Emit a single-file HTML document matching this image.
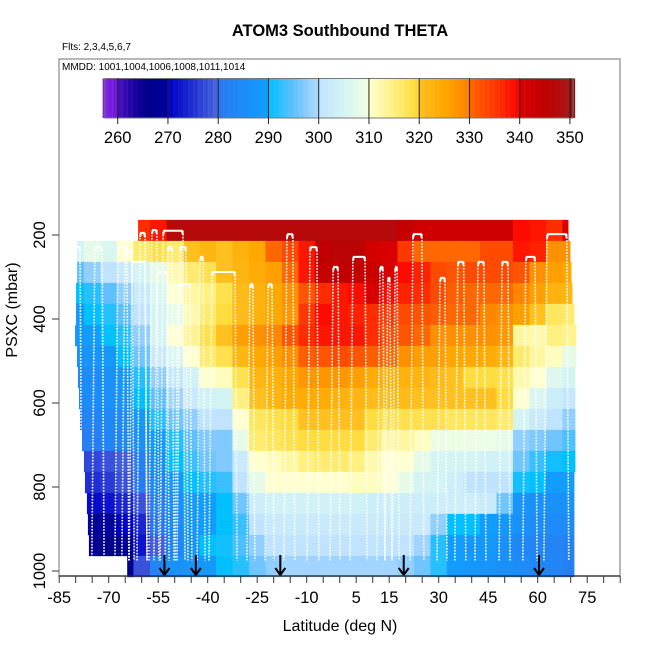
<!DOCTYPE html>
<html><head><meta charset="utf-8"><style>
html,body{margin:0;padding:0;background:#fff;}
svg{display:block;font-family:"Liberation Sans",Arial,sans-serif;}
</style></head><body>
<svg id="chart" width="650" height="650" viewBox="0 0 650 650">
<rect x="0" y="0" width="650" height="650" fill="#fff"/>
<text x="340" y="36" text-anchor="middle" font-size="16.5" font-weight="bold">ATOM3 Southbound THETA</text>
<text x="62" y="50" font-size="10">Flts: 2,3,4,5,6,7</text>
<text x="62" y="70" font-size="10">MMDD: 1001,1004,1006,1008,1011,1014</text>
<g id="heat"></g>
<g id="profiles"></g>
<g id="arrows"></g>
<rect x="59" y="59" width="561" height="517" fill="none" stroke="#888" stroke-width="1.2"/>
<g id="cbar"></g>
<g id="xaxis"></g>
<g id="yaxis"></g>
<text x="340" y="631" text-anchor="middle" font-size="16">Latitude (deg N)</text>
<text x="0" y="0" transform="translate(17,310) rotate(-90)" text-anchor="middle" font-size="16">PSXC (mbar)</text>
</svg>
<script>
// ---- data ----
const latCenters = [-80,-75,-70,-65,-60,-55,-50,-45,-40,-35,-30,-25,-20,-15,-10,-5,0,5,10,15,20,25,30,35,40,45,50,55,60,65,70];
const presCenters = [189,239,289,339,389,439,489,539,589,639,689,739,789,839,889,939,989];
const rowStartLat = [-61.1,-79.6,-79.6,-79.9,-79.9,-80.2,-79.6,-79.3,-79.0,-78.7,-78.1,-77.5,-77.2,-76.6,-76.3,-76.0,-64.4];
const rowEndLat = [69.2,69.8,70.1,70.4,71.0,71.6,71.6,71.3,71.3,71.3,71.3,71.3,71.0,71.0,71.0,71.0,71.0];
const theta0 = [null,null,null,null,336,338,347,347,347,347,347,347,347,347,347,347,347,347,347,347,344,342,342,342,342,342,342,339,338,336,340];
const theta1 = [305,308,306,310,316,318,316,320,322,320,323,325,330,333,338,345,346,346,341,340,335,330,330,330,330,333,333,338,337,328,328];
const theta2 = [295,298,300,302,305,308,312,316,318,320,322,324,326,330,338,344,345,344,343,340,339,337,333,332,333,333,333,332,328,326,325];
const theta3 = [290,292,295,298,302,306,310,313,315,318,321,323,325,328,332,336,338,339,340,339,337,336,333,331,330,330,330,329,326,323,322];
const theta4 = [288,290,292,295,300,305,308,312,316,319,321,323,325,327,335,339,338,337,336,335,333,332,331,330,330,329,328,326,320,317,316];
const theta5 = [288,289,290,292,298,305,310,314,318,320,326,328,329,332,336,338,338,338,336,333,332,330,328,328,328,328,327,313,312,315,314];
const theta6 = [286,287,288,290,296,302,306,310,316,318,322,325,326,328,331,332,333,332,331,330,328,326,326,325,325,324,322,316,313,311,308];
const theta7 = [284,285,286,288,292,298,301,304,310,311,318,322,323,325,327,327,327,326,324,323,323,322,321,320,319,319,318,312,310,307,305];
const theta8 = [284,285,286,287,290,295,299,302,304,305,315,320,322,324,324,324,323,322,321,321,321,320,320,320,320,320,319,310,306,303,301];
const theta9 = [282,283,284,285,288,292,296,298,300,300,310,317,318,319,320,320,320,320,319,318,318,318,318,317,317,317,316,305,302,300,298];
const theta10 = [281,282,283,284,286,289,292,295,297,297,308,316,317,318,319,319,319,319,316,313,313,311,309,309,309,309,308,298,297,296,294];
const theta11 = [276,277,278,279,282,286,290,293,296,297,302,310,311,313,315,316,316,315,312,310,310,308,305,305,305,304,304,296,293,291,290];
const theta12 = [274,275,276,278,281,284,288,290,292,293,300,308,310,310,310,310,310,311,311,310,308,305,305,303,300,300,300,291,290,289,289];
const theta13 = [270,271,272,274,278,282,286,289,289,290,296,303,304,304,304,304,304,304,303,303,303,303,303,303,303,302,296,287,286,286,286];
const theta14 = [267,268,269,270,274,280,285,288,289,290,293,300,302,302,302,302,302,302,302,302,302,302,298,290,290,289,288,286,285,285,285];
const theta15 = [null,265,266,268,272,279,284,287,290,291,294,298,300,300,300,300,300,300,300,300,300,299,292,289,288,288,286,284,283,283,282];
const theta16 = [null,null,null,266,278,283,286,287,288,290,292,296,298,299,299,299,299,299,299,299,298,296,292,289,288,287,286,285,284,283,282];
const thetaRows = [theta0,theta1,theta2,theta3,theta4,theta5,theta6,theta7,theta8,theta9,theta10,theta11,theta12,theta13,theta14,theta15,theta16];

const profLeftLat = [-80.2,-74.2,-67.2,-65.1,-62.9,-60.5,-56.9,-55.4,-53.5,-52.0,-49.0,-48.4,-42.3,-38.7,-27.2,-21.7,-16.0,-9.0,-2.0,4.0,12.2,14.6,16.8,22.2,30.4,35.8,41.9,49.2,56.4,62.8];
const profRightLat = [-78.7,-72.0,-64.5,-62.9,-59.0,-59.0,-55.4,-52.3,-47.5,-50.8,-45.4,-46.6,-41.4,-31.7,-26.3,-20.5,-14.2,-6.9,-0.5,7.7,13.1,15.2,17.4,24.9,31.9,37.6,43.7,51.0,59.2,68.8];
const profTopP = [229,229,229,240,264,195,188,288,190,229,317,229,252,288,317,317,198,229,276,252,276,302,276,198,302,264,264,264,252,198];
const profBottomP = 975;

const arrowLats = [-53.1,-43.6,-18.0,19.4,60.4];

const cbarTicks = [260,270,280,290,300,310,320,330,340,350];
const xTickLabels = [-85,-70,-55,-40,-25,-10,5,15,30,45,60,75];
const yTickLabels = [200,400,600,800,1000];

// ---- scales ----
const xS = lat => 59.2 + (lat + 85) * 3.3;
const yS = p => 235 + (p - 200) * 0.42;
const cS = v => 117.7 + (v - 260) * 5.025;

const stops = [[257,'#8020e8'],[259.9,'#7018e0'],[260,'#4a10c0'],[264,'#10009a'],[266,'#000088'],[269.9,'#0000a0'],[270,'#0000c8'],[275,'#2030d0'],[279.9,'#4a68e0'],[280,'#2a78f0'],[289.9,'#10a0ff'],[290,'#00c0ff'],[295,'#60c0ff'],[299.9,'#b0d8ff'],[300,'#c0e4ff'],[305,'#d4f4f4'],[309.9,'#f0ffe0'],[310,'#ffffd0'],[315,'#fff080'],[319.9,'#ffd830'],[320,'#ffc020'],[325,'#ffa800'],[329.9,'#ff8000'],[330,'#ff6800'],[335,'#ff3800'],[339.9,'#ff0000'],[340,'#d80000'],[345,'#c00000'],[349.9,'#a81818'],[350,'#901010'],[352,'#901010']];
function hex(h){return [parseInt(h.substr(1,2),16),parseInt(h.substr(3,2),16),parseInt(h.substr(5,2),16)];}
function cmap(v){
  if(v<=stops[0][0]) return stops[0][1];
  for(let i=0;i<stops.length-1;i++){
    const a=stops[i],b=stops[i+1];
    if(v>=a[0]&&v<=b[0]){
      const t=(v-a[0])/(b[0]-a[0]);const ca=hex(a[1]),cb=hex(b[1]);
      return 'rgb('+ca.map((c,k)=>Math.round(c+(cb[k]-c)*t)).join(',')+')';
    }
  }
  return stops[stops.length-1][1];
}
const NS='http://www.w3.org/2000/svg';
function mk(tag,attrs,parent){const e=document.createElementNS(NS,tag);for(const k in attrs)e.setAttribute(k,attrs[k]);parent.appendChild(e);return e;}

// ---- heatmap ----
const heat=document.getElementById('heat');
thetaRows.forEach((row,r)=>{
  const y0=yS(presCenters[r]-25), y1=yS(presCenters[r]+25);
  row.forEach((v,c)=>{
    if(v===null) return;
    const l=Math.max(latCenters[c]-2.5,rowStartLat[r]);
    const rt=Math.min(latCenters[c]+2.5,rowEndLat[r]);
    if(rt<=l) return;
    const e=mk('rect',{x:xS(l),y:y0,width:xS(rt)-xS(l)+0.4,height:y1-y0+0.3,fill:cmap(v)},heat);
    
    
  });
});

// ---- profiles ----
const prof=document.getElementById('profiles');
profTopP.forEach((tp,i)=>{
  const xl=xS(profLeftLat[i]), xr=xS(profRightLat[i]), yt=yS(tp), yb=yS(profBottomP);
  const side=mk('path',{d:`M${xl-3},${yb} L${xl},${yt} M${xr},${yt} L${xr+2},${yb}`,fill:'none',stroke:'#fff','stroke-width':1.6,'stroke-dasharray':'1.6 1.4'},prof);
  
  
  const top=mk('path',{d:`M${xl},${yt+4} L${xl+1},${yt} L${xr-1},${yt} L${xr},${yt+4}`,fill:'none',stroke:'#fff','stroke-width':2},prof);
  
  
});

// ---- arrows ----
const arr=document.getElementById('arrows');
arrowLats.forEach(lat=>{
  const x=xS(lat);
  const a=mk('path',{d:`M${x},555 L${x},575 M${x-5},568 L${x},575 L${x+5},568`,fill:'none',stroke:'#000','stroke-width':2},arr);
  
  
});

// ---- colorbar ----
const cb=document.getElementById('cbar');
for(let v=257;v<351;v++){
  const e=mk('rect',{x:cS(v),y:78.5,width:5.2,height:39.5,fill:cmap(v+0.5)},cb);
  
  
}
mk('rect',{x:105,y:78.5,width:468,height:39.5,fill:'none',stroke:'#777','stroke-width':1},cb);
cbarTicks.forEach(t=>{
  const x=cS(t);
  const l=mk('line',{x1:x,y1:78.5,x2:x,y2:124,stroke:'#222','stroke-width':1},cb);
  
  
  const tx=mk('text',{x:x,y:143,'text-anchor':'middle','font-size':16.5},cb);
  tx.textContent=t;
  
  
});

// ---- x axis ----
const xa=document.getElementById('xaxis');
mk('line',{x1:59,y1:576,x2:620,y2:576,stroke:'#222','stroke-width':1.2},xa);
for(let lat=-85;lat<=85;lat+=5){
  const x=xS(lat);
  const t=mk('line',{x1:x,y1:576,x2:x,y2:583,stroke:'#333','stroke-width':1},xa);
  
  
}
xTickLabels.forEach(v=>{
  const tx=mk('text',{x:xS(v),y:603,'text-anchor':'middle','font-size':16.5},xa);
  tx.textContent=v;
  
  
});

// ---- y axis ----
const ya=document.getElementById('yaxis');
yTickLabels.forEach(v=>{
  const y=yS(v);
  const t=mk('line',{x1:52,y1:y,x2:59,y2:y,stroke:'#333','stroke-width':1},ya);
  
  
  const tx=mk('text',{x:0,y:0,transform:`translate(45,${y}) rotate(-90)`,'text-anchor':'middle','font-size':16.5},ya);
  tx.textContent=v;
  
  
});
</script>
</body></html>
